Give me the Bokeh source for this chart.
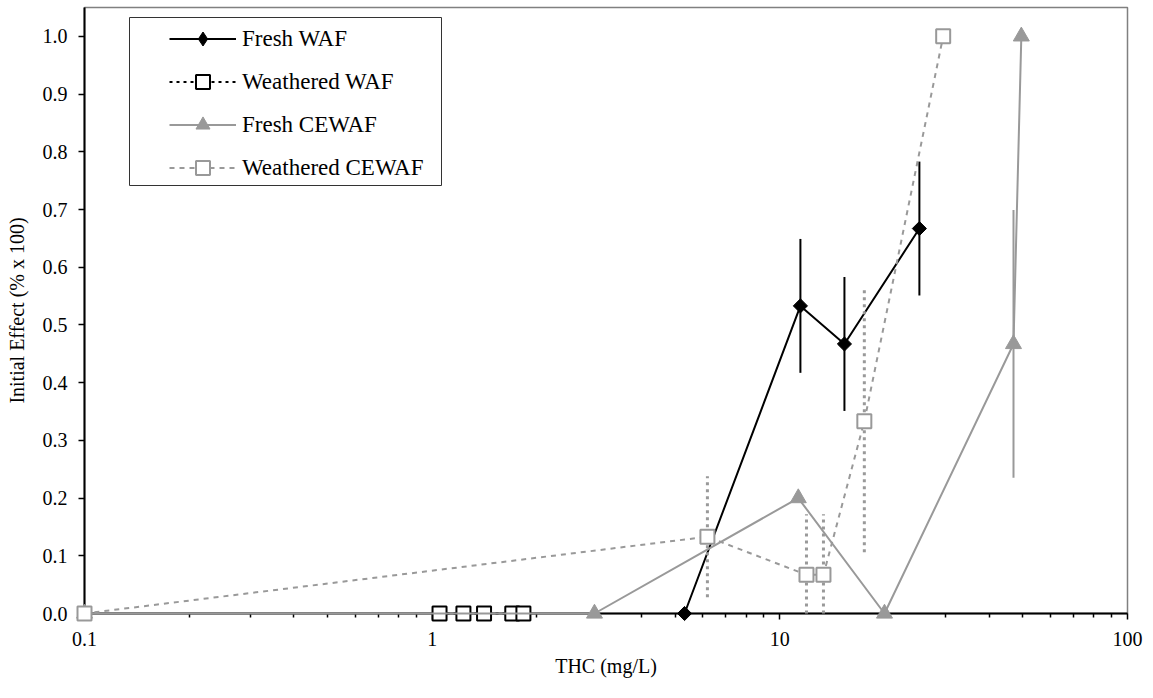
import numpy as np
from bokeh.plotting import figure
from bokeh.models import (Range1d, FixedTicker, NumeralTickFormatter, Legend,
                          LegendItem, BoxAnnotation)
from bokeh.embed import file_html
from bokeh.resources import INLINE

# ---------------- data ----------------
fresh_waf_x = [5.32, 11.46, 15.34, 25.2]
fresh_waf_y = [0.0, 0.533, 0.467, 0.667]
fresh_waf_err = [0.0, 0.116, 0.116, 0.116]

weathered_waf_x = [1.05, 1.23, 1.41, 1.70, 1.83]
weathered_waf_y = [0.0, 0.0, 0.0, 0.0, 0.0]

fresh_cewaf_x = [0.1, 2.93, 11.3, 20.0, 47.0, 49.5]
fresh_cewaf_y = [0.0, 0.0, 0.2, 0.0, 0.467, 1.0]
fresh_cewaf_err = [0.0, 0.0, 0.0, 0.0, 0.232, 0.0]

weathered_cewaf_x = [0.1, 6.19, 11.93, 13.35, 17.5, 29.5]
weathered_cewaf_y = [0.0, 0.133, 0.067, 0.067, 0.333, 1.0]
weathered_cewaf_err = [0.0, 0.105, 0.105, 0.105, 0.227, 0.0]

series_names = ["Fresh WAF", "Weathered WAF", "Fresh CEWAF", "Weathered CEWAF"]

x_ticks = [0.1, 1, 10, 100]
x_minor = [m * d for d in [0.1, 1, 10] for m in range(2, 10)]
y_ticks = [0.0, 0.1, 0.2, 0.3, 0.4, 0.5, 0.6, 0.7, 0.8, 0.9, 1.0]

x_label = "THC (mg/L)"
y_label = "Initial Effect (% x 100)"

GRAY = "#999999"
FONT = "Liberation Serif"

# ---------------- figure ----------------
p = figure(width=1153, height=698, x_axis_type="log",
           x_range=Range1d(0.1, 100), y_range=Range1d(0, 1.050),
           output_backend="svg", toolbar_location=None,
           min_border_left=84, min_border_right=26,
           min_border_top=7, min_border_bottom=85)
p.grid.visible = False
p.outline_line_color = "#808080"
p.outline_line_width = 1.5
p.background_fill_color = "white"
p.border_fill_color = "white"

for ax in (p.xaxis, p.yaxis):
    ax.axis_line_color = "black"
    ax.axis_line_width = 2
    ax.major_tick_line_color = "black"
    ax.major_tick_line_width = 1.5
    ax.major_tick_in = 0
    ax.major_tick_out = 6
    ax.minor_tick_in = 0
    ax.minor_tick_out = 4
    ax.minor_tick_line_width = 1.5
    ax.minor_tick_line_color = "black"
    ax.major_label_text_font = FONT
    ax.major_label_text_font_size = "20px"
    ax.major_label_text_color = "black"
    ax.axis_label_text_font = FONT
    ax.axis_label_text_font_size = "20px"
    ax.axis_label_text_font_style = "normal"
    ax.axis_label_text_color = "black"

p.xaxis.ticker = FixedTicker(ticks=x_ticks, minor_ticks=x_minor)
p.xaxis.formatter = NumeralTickFormatter(format="0.[0]")
p.xaxis.major_label_standoff = 12
p.xaxis.axis_label = x_label
p.xaxis.axis_label_standoff = 6

p.yaxis.ticker = FixedTicker(ticks=y_ticks)
p.yaxis.formatter = NumeralTickFormatter(format="0.0")
p.yaxis.minor_tick_line_color = None
p.yaxis.major_label_standoff = 11
p.yaxis.axis_label = y_label
p.yaxis.axis_label_standoff = 12


def err_bars(x, y, e, **kw):
    x = np.array(x, dtype=float)
    y = np.array(y, dtype=float)
    e = np.array(e, dtype=float)
    m = e > 0
    lo = np.maximum(y[m] - e[m], 0.0)
    hi = y[m] + e[m]
    r = p.segment(x0=x[m], x1=x[m], y0=lo, y1=hi, **kw)
    r.level = "overlay"
    return r


def ov(r):
    r.level = "overlay"
    return r

# Fresh WAF
err_bars(fresh_waf_x, fresh_waf_y, fresh_waf_err, line_color="black", line_width=2)
l1 = ov(p.line(fresh_waf_x, fresh_waf_y, line_color="black", line_width=2))
m1 = ov(p.scatter(fresh_waf_x, fresh_waf_y, marker="square", size=10, angle=np.pi / 4,
                  fill_color="black", line_color="black"))
# legend-only marker (legend samples ignore marker angle)
m1_leg = p.scatter(fresh_waf_x, fresh_waf_y, marker="diamond", size=14,
                   fill_color="black", line_color="black", visible=False)

# Weathered WAF
l2 = ov(p.line(weathered_waf_x, weathered_waf_y, line_color="black", line_width=2,
               line_dash="3 4"))
m2 = ov(p.scatter(weathered_waf_x, weathered_waf_y, marker="square", size=14,
                  fill_color="white", line_color="black", line_width=2))

# Fresh CEWAF
err_bars(fresh_cewaf_x, fresh_cewaf_y, fresh_cewaf_err, line_color=GRAY, line_width=2)
l3 = ov(p.line(fresh_cewaf_x, fresh_cewaf_y, line_color=GRAY, line_width=2))
m3 = ov(p.scatter(fresh_cewaf_x, fresh_cewaf_y, marker="triangle", size=16,
                  fill_color=GRAY, line_color=GRAY))

# Weathered CEWAF
err_bars(weathered_cewaf_x, weathered_cewaf_y, weathered_cewaf_err, line_color=GRAY,
         line_width=3, line_dash="3 4")
l4 = ov(p.line(weathered_cewaf_x, weathered_cewaf_y, line_color=GRAY, line_width=2,
               line_dash="5 5"))
m4 = ov(p.scatter(weathered_cewaf_x, weathered_cewaf_y, marker="square", size=14,
                  fill_color="white", line_color=GRAY, line_width=2))

# legend box
box = BoxAnnotation(left=129, right=441, top=17, bottom=185,
                    left_units="canvas", right_units="canvas",
                    top_units="canvas", bottom_units="canvas",
                    fill_color="white", fill_alpha=1.0,
                    line_color="#333333", line_width=1, line_alpha=1.0)
p.add_layout(box)

legend = Legend(items=[LegendItem(label=series_names[0], renderers=[l1, m1_leg]),
                       LegendItem(label=series_names[1], renderers=[l2, m2]),
                       LegendItem(label=series_names[2], renderers=[l3, m3]),
                       LegendItem(label=series_names[3], renderers=[l4, m4])],
                location=(82, 425), glyph_width=67, glyph_height=35,
                label_height=35, label_standoff=6, spacing=8, padding=3,
                label_text_font=FONT, label_text_font_size="23px",
                label_text_color="black",
                border_line_alpha=0, background_fill_alpha=0)
p.add_layout(legend, "center")

open("out.html", "w").write(file_html(p, INLINE))
